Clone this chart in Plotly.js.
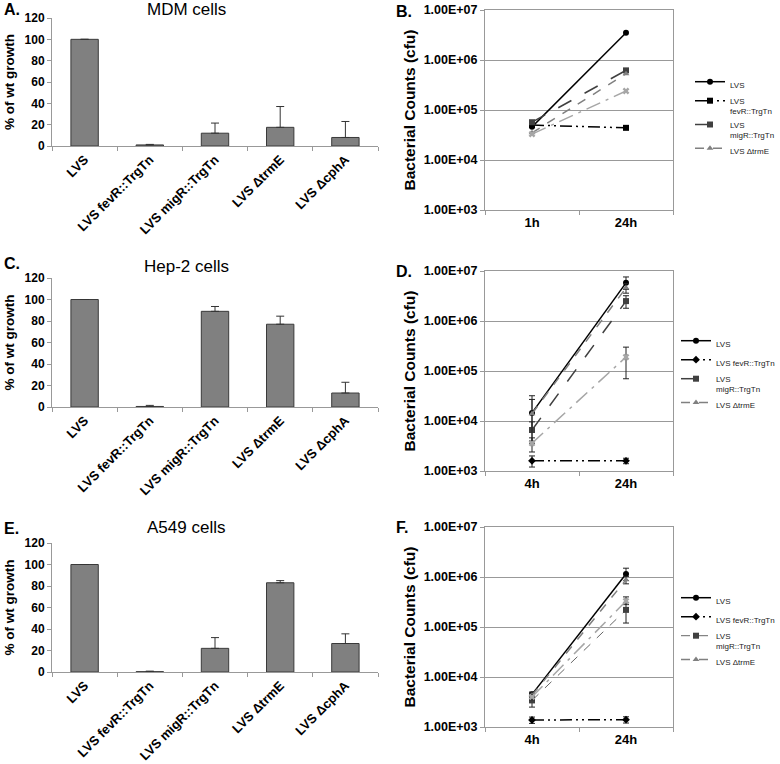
<!DOCTYPE html>
<html>
<head>
<meta charset="utf-8">
<script src="https://cdn.plot.ly/plotly-3.0.1.min.js"></script>
<style>
  body { margin: 0; background: #fff; }
  #plot { width: 780px; height: 764px; }
</style>
</head>
<body>
<div id="plot"></div>
<script>
// Bar panels (A, C, E): % of wt growth
var barCats = ["LVS", "LVS fevR::TrgTn", "LVS migR::TrgTn", "LVS \u0394trmE", "LVS \u0394cphA"];
var mdmPct = [100, 1, 12, 17.5, 8];
var mdmErr = [0, 0.5, 9.5, 19.5, 15];
var hepPct = [100, 0.5, 89, 77, 13];
var hepErr = [0, 1, 4.5, 7.5, 10];
var a549Pct = [100, 0.3, 22, 83, 26.5];
var a549Err = [0, 0.5, 10, 2, 9];

// Line panels (B, D, F): bacterial counts (cfu)
var seriesNames = ["LVS", "LVS fevR::TrgTn", "LVS migR::TrgTn", "LVS \u0394trmE", "LVS \u0394cphA"];
var timesB = ["1h", "24h"];
var timesDF = ["4h", "24h"];

var mdmLvs = [4.6e4, 3.5e6];
var mdmFevR = [5.0e4, 4.4e4];
var mdmMigR = [5.7e4, 6.2e5];
var mdmTrmE = [3.5e4, 5.3e5];
var mdmCphA = [3.3e4, 2.4e5];

var hepLvs = [1.45e4, 5.8e6];
var hepLvsUp = [1.75e4, 1.8e6];
var hepLvsDown = [8e3, 1.5e6];
var hepFevR = [1.6e3, 1.6e3];
var hepFevRUp = [4e2, 2e2];
var hepFevRDown = [4e2, 2e2];
var hepMigR = [6.6e3, 2.5e6];
var hepMigRUp = [3e3, 7e5];
var hepMigRDown = [3e3, 7e5];
var hepTrmE = [1.4e4, 4.6e6];
var hepTrmEUp = [1.3e4, 1e6];
var hepTrmEDown = [1e4, 1e6];
var hepCphA = [3.6e3, 1.9e5];
var hepCphAUp = [1e3, 1.1e5];
var hepCphADown = [1.2e3, 1.2e5];

var a549Lvs = [4.5e3, 1.15e6];
var a549LvsUp = [5e2, 3.5e5];
var a549LvsDown = [5e2, 3e5];
var a549FevR = [1.38e3, 1.4e3];
var a549FevRUp = [2e2, 2e2];
var a549FevRDown = [2e2, 2e2];
var a549MigR = [3.4e3, 2.2e5];
var a549MigRUp = [8e2, 9e4];
var a549MigRDown = [9e2, 1e5];
var a549TrmE = [4.3e3, 8.8e5];
var a549TrmEUp = [5e2, 1.5e5];
var a549TrmEDown = [5e2, 1.5e5];
var a549CphA = [4.0e3, 3.3e5];
var a549CphAUp = [5e2, 7e4];
var a549CphADown = [5e2, 5e4];

var font = "Liberation Sans, Arial, sans-serif";

function barTrace(vals, errs, xa, ya) {
  return {
    type: "bar",
    x: barCats,
    y: vals,
    xaxis: xa,
    yaxis: ya,
    showlegend: false,
    marker: { color: "#808080", line: { color: "#3a3a3a", width: 1 } },
    error_y: { type: "data", array: errs, symmetric: false,
      arrayminus: errs.map(function () { return 0; }),
      color: "#333", thickness: 1, width: 4 }
  };
}

// line styles for the 5 strains
var styles = [
  { color: "#000", dash: "solid", width: 1.5, symbol: "circle" },
  { color: "#000", dash: "12px,4px,2px,4px,2px,4px", width: 1.5, symbol: "square" },
  { color: "#404040", dash: "longdash", width: 1.5, symbol: "square" },
  { color: "#808080", dash: "dash", width: 1.5, symbol: "triangle-up" },
  { color: "#a6a6a6", dash: "longdashdot", width: 1.5, symbol: "x" }
];

function lineTrace(i, name, times, vals, up, down, xa, ya, leg, opts) {
  var s = styles[i];
  var t = {
    type: "scatter",
    mode: "lines+markers",
    name: name,
    x: times,
    y: vals,
    xaxis: xa,
    yaxis: ya,
    legend: leg,
    showlegend: i < 4,
    line: { color: s.color, dash: s.dash, width: s.width },
    marker: { color: s.color, symbol: s.symbol, size: 6 }
  };
  if (opts) {
    if (opts.symbol) t.marker.symbol = opts.symbol;
    if (opts.width) t.line.width = opts.width;
    if (opts.dash) t.line.dash = opts.dash;
  }
  if (up) {
    t.error_y = { type: "data", array: up, arrayminus: down, symmetric: false,
      color: "#222", thickness: 1, width: 3 };
  }
  return t;
}

var data = [
  barTrace(mdmPct, mdmErr, "x", "y"),
  barTrace(hepPct, hepErr, "x3", "y3"),
  barTrace(a549Pct, a549Err, "x5", "y5"),

  lineTrace(0, "LVS", timesB, mdmLvs, null, null, "x2", "y2", "legend"),
  lineTrace(1, "LVS<br>fevR::TrgTn", timesB, mdmFevR, null, null, "x2", "y2", "legend"),
  lineTrace(2, "LVS<br>migR::TrgTn", timesB, mdmMigR, null, null, "x2", "y2", "legend"),
  lineTrace(3, "LVS \u0394trmE", timesB, mdmTrmE, null, null, "x2", "y2", "legend"),
  lineTrace(4, seriesNames[4], timesB, mdmCphA, null, null, "x2", "y2", "legend"),

  lineTrace(0, "LVS", timesDF, hepLvs, hepLvsUp, hepLvsDown, "x4", "y4", "legend2"),
  lineTrace(1, "LVS fevR::TrgTn", timesDF, hepFevR, hepFevRUp, hepFevRDown, "x4", "y4", "legend2", { symbol: "diamond" }),
  lineTrace(2, "LVS<br>migR::TrgTn", timesDF, hepMigR, hepMigRUp, hepMigRDown, "x4", "y4", "legend2"),
  lineTrace(3, "LVS \u0394trmE", timesDF, hepTrmE, hepTrmEUp, hepTrmEDown, "x4", "y4", "legend2"),
  lineTrace(4, seriesNames[4], timesDF, hepCphA, hepCphAUp, hepCphADown, "x4", "y4", "legend2"),

  lineTrace(0, "LVS", timesDF, a549Lvs, a549LvsUp, a549LvsDown, "x6", "y6", "legend3"),
  lineTrace(1, "LVS fevR::TrgTn", timesDF, a549FevR, a549FevRUp, a549FevRDown, "x6", "y6", "legend3", { symbol: "diamond" }),
  lineTrace(2, "LVS<br>migR::TrgTn", timesDF, a549MigR, a549MigRUp, a549MigRDown, "x6", "y6", "legend3", { width: 0.8, dash: "dash" }),
  lineTrace(3, "LVS \u0394trmE", timesDF, a549TrmE, a549TrmEUp, a549TrmEDown, "x6", "y6", "legend3"),
  lineTrace(4, seriesNames[4], timesDF, a549CphA, a549CphAUp, a549CphADown, "x6", "y6", "legend3")
];

var W = 780, H = 764;
function px(x) { return x / W; }
function py(y) { return 1 - y / H; }

function barX(top) {
  return {
    domain: [px(52), px(378)], anchor: top,
    type: "category", tickangle: -45,
    tickfont: { family: font, size: 13, weight: "bold", color: "#000" },
    showline: true, linecolor: "#999", linewidth: 1,
    ticks: "outside", tickson: "boundaries", ticklen: 4, tickcolor: "#999",
    showgrid: false
  };
}
function barY(x, y0, y1) {
  return {
    domain: [py(y1), py(y0)], anchor: x, range: [0, 120], dtick: 20,
    showgrid: false, zeroline: false,
    showline: true, linecolor: "#999", ticks: "outside", ticklen: 4, tickcolor: "#999",
    tickfont: { family: font, size: 12, weight: "bold", color: "#000" },
    title: { text: "% of wt growth", standoff: 6,
      font: { family: font, size: 13.5, weight: "bold", color: "#000" } }
  };
}
function logX(y) {
  return {
    domain: [px(485), px(673)], anchor: y, type: "category", range: [-0.5, 1.5],
    showline: true, mirror: true, linecolor: "#999",
    ticks: "outside", tickson: "boundaries", ticklen: 4, tickcolor: "#999",
    showgrid: false,
    tickfont: { family: font, size: 13, weight: "bold", color: "#000" }
  };
}
function logY(x, y0, y1) {
  return {
    domain: [py(y1), py(y0)], anchor: x, type: "log", range: [3, 7],
    tickvals: [1e3, 1e4, 1e5, 1e6, 1e7],
    ticktext: ["1.00E+03", "1.00E+04", "1.00E+05", "1.00E+06", "1.00E+07"],
    showgrid: true, gridcolor: "#999", zeroline: false,
    showline: true, mirror: true, linecolor: "#999",
    ticks: "outside", ticklen: 4, tickcolor: "#999",
    tickfont: { family: font, size: 12.5, weight: "bold", color: "#000" },
    title: { text: "Bacterial Counts (cfu)", standoff: 4,
      font: { family: font, size: 15.5, weight: "bold", color: "#000" } }
  };
}
function legendAt(yTop) {
  return {
    x: 1, y: py(yTop), xanchor: "right", yanchor: "top",
    font: { family: font, size: 8, color: "#222" },
    bgcolor: "rgba(0,0,0,0)", valign: "top", tracegroupgap: 0
  };
}

function label(text, x, y, size, bold) {
  return {
    text: text, xref: "paper", yref: "paper", x: px(x), y: py(y),
    xanchor: bold ? "left" : "center", yanchor: "middle", showarrow: false,
    font: { family: font, size: size, weight: bold ? "bold" : "normal", color: "#000" }
  };
}

var layout = {
  width: W, height: H,
  margin: { l: 0, r: 0, t: 0, b: 0, autoexpand: false },
  paper_bgcolor: "#fff", plot_bgcolor: "#fff",
  bargap: 0.58,
  xaxis: barX("y"), yaxis: barY("x", 18, 146),
  xaxis3: barX("y3"), yaxis3: barY("x3", 278, 407),
  xaxis5: barX("y5"), yaxis5: barY("x5", 543, 672),
  xaxis2: logX("y2"), yaxis2: logY("x2", 10, 210),
  xaxis4: logX("y4"), yaxis4: logY("x4", 271, 471),
  xaxis6: logX("y6"), yaxis6: logY("x6", 527, 727),
  legend: legendAt(70),
  legend2: legendAt(329),
  legend3: legendAt(586),
  annotations: [
    label("A.", 2, 10, 16, true),
    label("MDM cells", 186, 10, 17, false),
    label("C.", 2, 263, 16, true),
    label("Hep-2 cells", 186, 267, 17, false),
    label("E.", 2, 528, 16, true),
    label("A549 cells", 186, 527, 17, false),
    label("B.", 394, 12, 16, true),
    label("D.", 394, 271, 16, true),
    label("F.", 394, 527, 16, true)
  ]
};

Plotly.newPlot("plot", data, layout, { displayModeBar: false, staticPlot: true });
</script>
</body>
</html>
